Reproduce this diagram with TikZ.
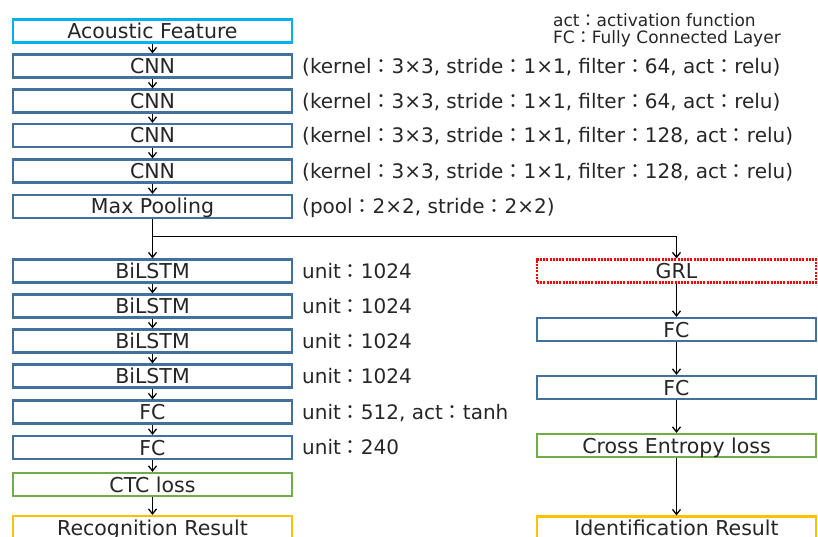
\documentclass[tikz,border=0pt]{standalone}
\usepackage{fontspec}
\setmainfont{DejaVu Sans}
\newfontfamily\cjkfont{Noto Sans CJK JP}
\newcommand\cln{{\cjkfont ：}}
\usetikzlibrary{arrows.meta}
\definecolor{cblue}{HTML}{41719C}
\definecolor{ccyan}{HTML}{00B0F0}
\definecolor{cgreen}{HTML}{70AD47}
\definecolor{cyellow}{HTML}{FFC000}
\definecolor{cred}{HTML}{FF0000}
\tikzset{
  layer/.style={draw=cblue, line width=2.2pt, fill=white, minimum width=279pt, minimum height=23pt, inner sep=0pt, font=\fontsize{20.5}{20.5}\selectfont, text height=15pt, text depth=0pt, text=black!85},
  inbox/.style={layer, draw=ccyan},
  lossbox/.style={layer, draw=cgreen},
  outbox/.style={layer, draw=cyellow},
  grlbox/.style={layer, draw=cred, dash pattern=on 2pt off 1.2pt},
  param/.style={anchor=west, inner sep=0pt, font=\fontsize{20}{20}\selectfont, text height=14.6pt, text depth=0pt, text=black!85},
  legend/.style={anchor=base west, inner sep=0pt, font=\fontsize{17}{17}\selectfont, text=black!85},
  conn/.style={-{Straight Barb[length=5pt,width=8pt]}, line width=1.3pt}
}
\begin{document}
\begin{tikzpicture}[x=1pt,y=-1pt]
\useasboundingbox (0,0) rectangle (818,537);
\clip (0,0) rectangle (818,537);
% left column
\node[inbox] (af) at (152.5,31) {Acoustic Feature};
\node[layer] (c1) at (152.5,66) {CNN};
\node[layer] (c2) at (152.5,101) {CNN};
\node[layer] (c3) at (152.5,135.5) {CNN};
\node[layer] (c4) at (152.5,171) {CNN};
\node[layer] (mp) at (152.5,206.5) {Max Pooling};
\node[layer] (b1) at (152.5,271) {BiLSTM};
\node[layer] (b2) at (152.5,306) {BiLSTM};
\node[layer] (b3) at (152.5,341) {BiLSTM};
\node[layer] (b4) at (152.5,376) {BiLSTM};
\node[layer] (f1) at (152.5,412) {FC};
\node[layer] (f2) at (152.5,447.5) {FC};
\node[lossbox] (ctc) at (152.5,484.5) {CTC loss};
\node[outbox] (rec) at (152.5,527.5) {Recognition Result};
% right column
\node[grlbox] (grl) at (676.5,271) {GRL};
\node[layer] (rf1) at (676.5,329.5) {FC};
\node[layer] (rf2) at (676.5,387.5) {FC};
\node[lossbox] (ce) at (676.5,445.5) {Cross Entropy loss};
\node[outbox] (idr) at (676.5,528) {Identification Result};
% params
\node[param] (p1) at (302,66) {(kernel\cln3×3, stride\cln1×1, filter\cln64, act\cln relu)};
\node[param] (p2) at (302,101) {(kernel\cln3×3, stride\cln1×1, filter\cln64, act\cln relu)};
\node[param] (p3) at (302,135.5) {(kernel\cln3×3, stride\cln1×1, filter\cln128, act\cln relu)};
\node[param] (p4) at (302,171) {(kernel\cln3×3, stride\cln1×1, filter\cln128, act\cln relu)};
\node[param] (p5) at (302,206.5) {(pool\cln2×2, stride\cln2×2)};
\node[param] (u1) at (302,271) {unit\cln1024};
\node[param] (u2) at (302,306) {unit\cln1024};
\node[param] (u3) at (302,341) {unit\cln1024};
\node[param] (u4) at (302,376) {unit\cln1024};
\node[param] (u5) at (302,412) {unit\cln512, act\cln tanh};
\node[param] (u6) at (302,447.5) {unit\cln240};
% legend
\node[legend] (l1) at (553,26.5) {act\cln activation function};
\node[legend] (l2) at (553,44) {FC\cln Fully Connected Layer};
% connectors
\draw[conn] (af) -- (c1);
\draw[conn] (c1) -- (c2);
\draw[conn] (c2) -- (c3);
\draw[conn] (c3) -- (c4);
\draw[conn] (c4) -- (mp);
\draw[conn] (mp) -- (b1);
\draw[conn] (b1) -- (b2);
\draw[conn] (b2) -- (b3);
\draw[conn] (b3) -- (b4);
\draw[conn] (b4) -- (f1);
\draw[conn] (f1) -- (f2);
\draw[conn] (f2) -- (ctc);
\draw[conn] (ctc) -- (rec);
\coordinate (split) at (152.5,236.5);
\draw[conn] (split) -| (grl.north);
\draw[conn] (grl) -- (rf1);
\draw[conn] (rf1) -- (rf2);
\draw[conn] (rf2) -- (ce);
\draw[conn] (ce) -- (idr);
\end{tikzpicture}
\end{document}
